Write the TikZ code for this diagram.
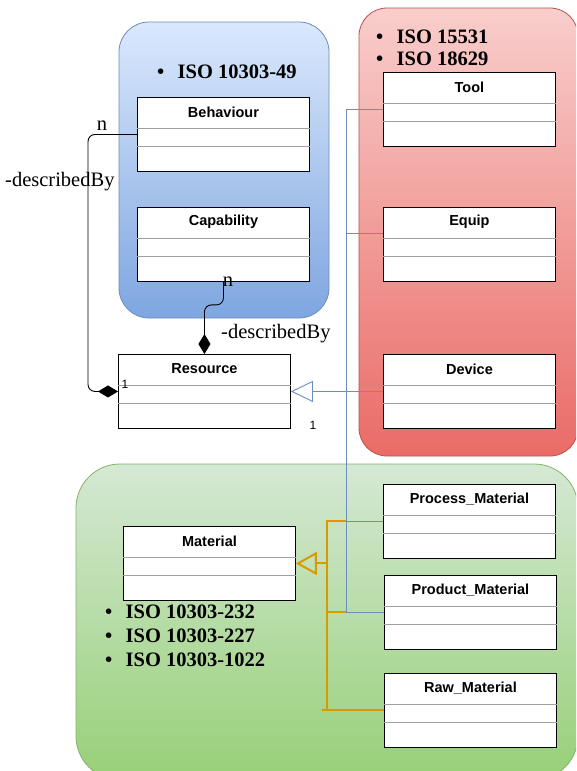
\documentclass[tikz,border=0pt]{standalone}
\usepackage{fontspec}
\setmainfont{Liberation Serif}
\setsansfont{Liberation Sans}
\usetikzlibrary{arrows.meta,calc}

\definecolor{blueTop}{HTML}{DAE8FC}
\definecolor{blueBot}{HTML}{7EA6E0}
\definecolor{blueEdge}{HTML}{6C8EBF}
\definecolor{redTop}{HTML}{F8CECC}
\definecolor{redBot}{HTML}{EA6B66}
\definecolor{redEdge}{HTML}{B85450}
\definecolor{greenTop}{HTML}{D5E8D4}
\definecolor{greenBot}{HTML}{97D077}
\definecolor{greenEdge}{HTML}{82B366}
\definecolor{genBlue}{HTML}{6C8EBF}
\definecolor{genOrange}{HTML}{D79B00}
\definecolor{rowGray}{HTML}{A0A0A0}

\tikzset{
  classbox/.style={draw=black, line width=0.9pt, fill=white, inner sep=0pt,
    minimum width=172pt, minimum height=74pt},
  classtitle/.style={font=\sffamily\bfseries\fontsize{14.5pt}{16pt}\selectfont, inner sep=0pt},
  rowline/.style={draw=rowGray, line width=0.9pt},
  isotext/.style={font=\bfseries\fontsize{20.5pt}{24pt}\selectfont, inner sep=0pt, anchor=base west},
  rolelabel/.style={font=\fontsize{20.5pt}{24pt}\selectfont, inner sep=0pt},
  multlabel/.style={font=\sffamily\fontsize{12pt}{14pt}\selectfont, inner sep=0pt},
  genline/.style={draw=genBlue, line width=0.9pt},
  orangeline/.style={draw=genOrange, line width=2pt},
  compline/.style={draw=black, line width=0.9pt, rounded corners=7pt,
    -{Diamond[length=20pt, width=12pt, fill=black]}},
}

% UML class box: name, x, y (top left), title
\newcommand\umlclass[4]{%
  \node[classbox, anchor=north west] (#1) at (#2,#3) {};
  \node[classtitle] (#1-title) at ($(#1.north)+(0pt,-15pt)$) {#4};
  \draw[rowline] ($(#1.north west)+(0pt,-31pt)$) -- ($(#1.north east)+(0pt,-31pt)$);
  \draw[rowline] ($(#1.north west)+(0pt,-49.5pt)$) -- ($(#1.north east)+(0pt,-49.5pt)$);
}
\newcommand\isobullet{\makebox[20.5pt][l]{\textbullet}}

\begin{document}
\begin{tikzpicture}[x=1pt, y=-1pt]
  \useasboundingbox (0,0) rectangle (576,771);
  \clip (0,0) rectangle (576,771);
  \fill[white] (0,0) rectangle (576,771);

  % group backgrounds
  \path[draw=blueEdge, line width=0.8pt, top color=blueTop, bottom color=blueBot,
        rounded corners=30pt] (119,22) rectangle (329,318);
  \path[draw=redEdge, line width=0.8pt, top color=redTop, bottom color=redBot,
        rounded corners=28pt] (359,8) rectangle (578,456);
  \path[draw=greenEdge, line width=0.8pt, top color=greenTop, bottom color=greenBot,
        rounded corners=44pt] (76,464) rectangle (578,780);

  % standard references
  \node[isotext] (iso49) at (157,78) {\isobullet ISO 10303-49};
  \node[isotext] (iso15531) at (376,43) {\isobullet ISO 15531};
  \node[isotext] (iso18629) at (376,65) {\isobullet ISO 18629};
  \node[isotext] (iso232) at (105,618) {\isobullet ISO 10303-232};
  \node[isotext] (iso227) at (105,642) {\isobullet ISO 10303-227};
  \node[isotext] (iso1022) at (105,666) {\isobullet ISO 10303-1022};

  % classes
  \umlclass{behaviour}{137}{97}{Behaviour}
  \umlclass{capability}{137}{207}{Capability}
  \umlclass{resource}{118}{354}{Resource}
  \umlclass{tool}{383}{72}{Tool}
  \umlclass{equip}{383}{207}{Equip}
  \umlclass{device}{383}{354}{Device}
  \umlclass{procmat}{383}{484}{Process\_Material}
  \umlclass{prodmat}{384}{575}{Product\_Material}
  \umlclass{rawmat}{384}{673}{Raw\_Material}
  \umlclass{material}{123}{526}{Material}

  % routing columns
  \coordinate (bus) at (346,0);
  \coordinate (obus) at (327,0);
  \coordinate (lbus) at (88,0);

  % material generalisation (orange)
  \draw[orangeline] ($(rawmat.west -| obus)+(-5pt,0pt)$) -- (rawmat.west);
  \draw[orangeline] (rawmat.west -| obus) -- (procmat.west -| obus) -- (procmat.west -| bus);
  \draw[orangeline] (prodmat.west -| obus) -- (prodmat.west -| bus);
  \draw[orangeline, -{Triangle[open, length=21pt, width=23pt, line width=2pt]}]
    (material.east -| obus) -- (material.east);

  % resource generalisation (blue)
  \draw[genline] (tool.west) -- (tool.west -| bus) -- (prodmat.west -| bus) -- (prodmat.west);
  \draw[genline] ($(equip.west)+(0pt,11pt)$) -- ++(-37pt,0pt);
  \draw[genline] (procmat.west -| bus) -- (procmat.west);
  \draw[genline, -{Triangle[open, length=22pt, width=21pt, line width=0.9pt]}]
    (device.west) -- (resource.east);

  % compositions
  \draw[compline] (behaviour.west) -- (behaviour.west -| lbus) |- (resource.west);
  \draw[compline] (capability.south) -- ++(0pt,-23pt) -| (resource.north);

  % labels
  \node[rolelabel] (n1) at (102,126) {n};
  \node[rolelabel, anchor=base west] (role1) at (5,186) {-describedBy};
  \node[multlabel] (m1) at (125,384) {1};
  \node[rolelabel] (n2) at (228,282) {n};
  \node[rolelabel, anchor=base west] (role2) at (221,338) {-describedBy};
  \node[multlabel] (m2) at (313,425) {1};
\end{tikzpicture}
\end{document}
